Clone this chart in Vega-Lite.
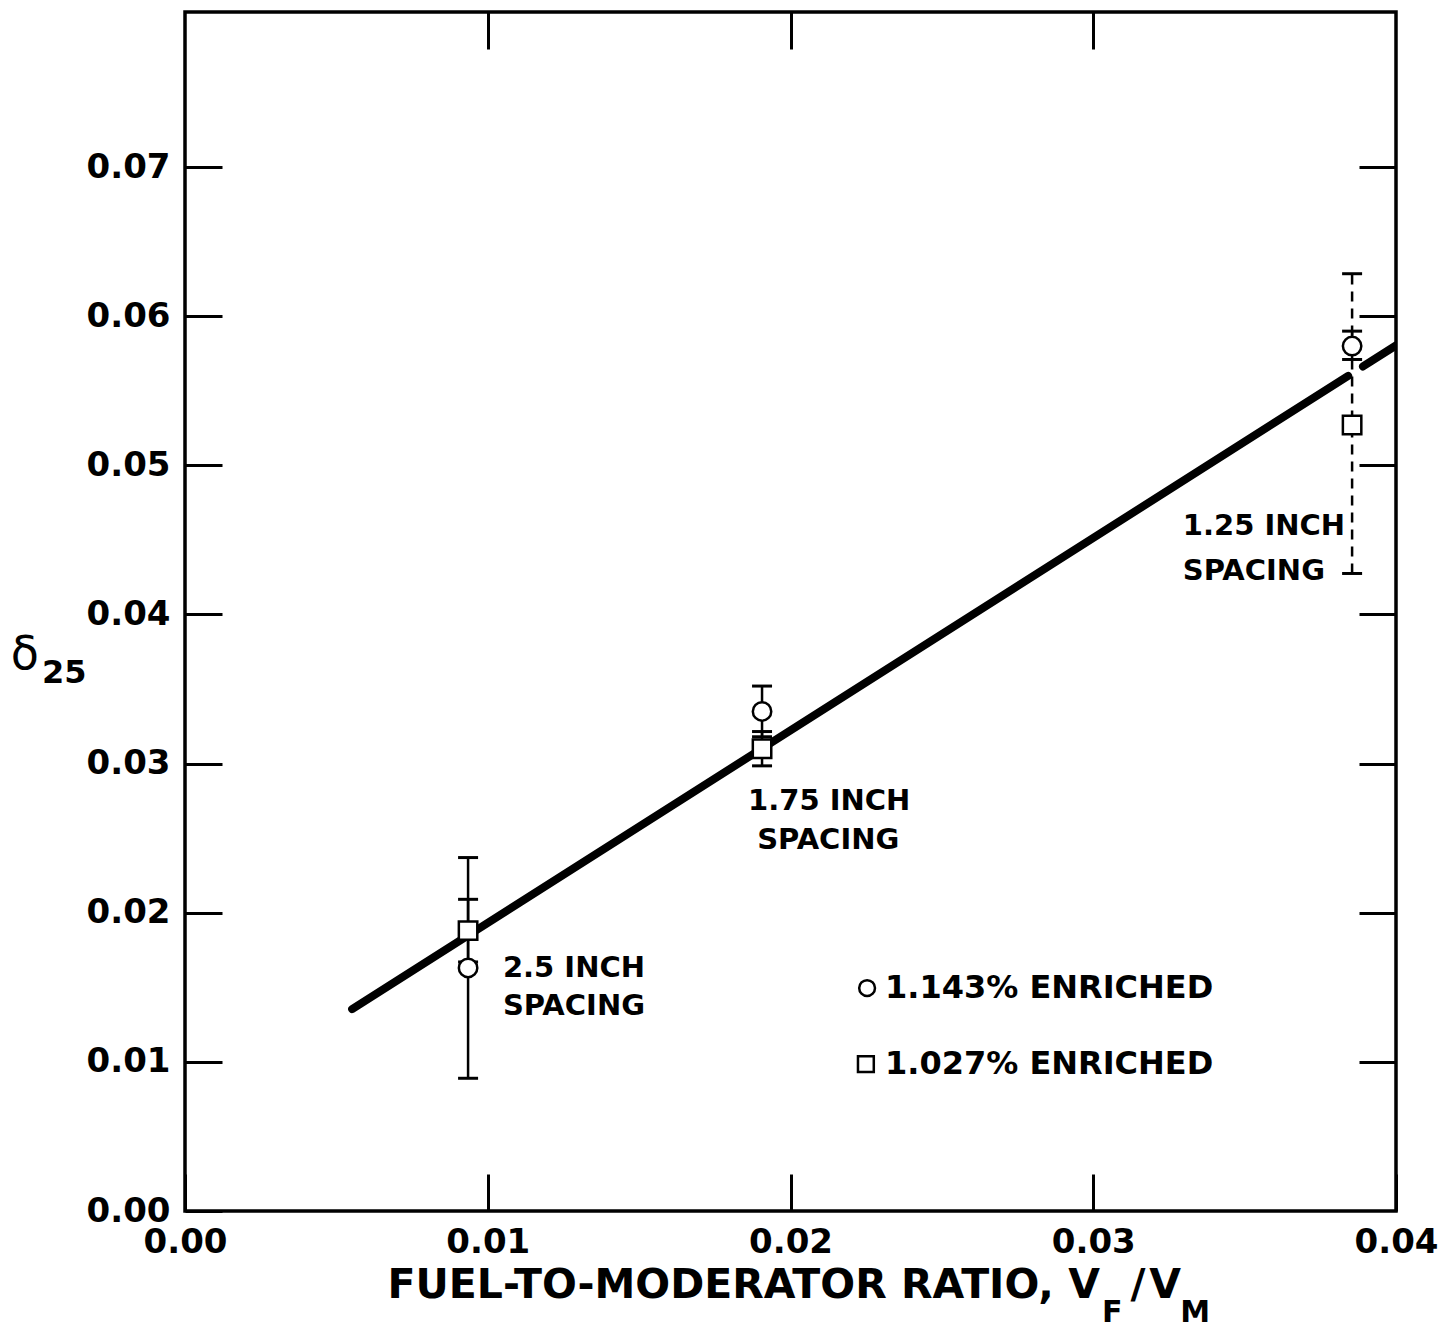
{
  "$schema": "https://vega.github.io/schema/vega-lite/v6.json",
  "width": 1211,
  "height": 1199,
  "autosize": {"type": "none"},
  "padding": {"left": 185, "top": 12, "right": 43, "bottom": 119},
  "background": "white",
  "config": {
    "font": "DejaVu Sans",
    "view": {"stroke": "black", "strokeWidth": 3.5},
    "axis": {
      "grid": false,
      "domain": false,
      "title": null,
      "labelFont": "DejaVu Sans",
      "labelFontSize": 34,
      "labelFontWeight": "bold",
      "labelColor": "black",
      "labelOverlap": false,
      "labelFlush": false,
      "tickColor": "black",
      "tickWidth": 3,
      "tickSize": -37
    },
    "text": {"font": "DejaVu Sans", "fontWeight": "bold", "color": "black", "baseline": "middle"}
  },
  "datasets": {
    "fit": [
      {"seg": "a", "x": 0.00552, "y": 0.01354},
      {"seg": "a", "x": 0.03842, "y": 0.056},
      {"seg": "b", "x": 0.03891, "y": 0.05663},
      {"seg": "b", "x": 0.04, "y": 0.05804}
    ],
    "obs": [
      {"spacing": "2.5", "enrichment": "1.143%", "x": 0.00935, "y": 0.0163, "lo": 0.0089, "hi": 0.0237},
      {"spacing": "2.5", "enrichment": "1.027%", "x": 0.00935, "y": 0.0188, "lo": 0.0167, "hi": 0.0209},
      {"spacing": "1.75", "enrichment": "1.143%", "x": 0.01906, "y": 0.0335, "lo": 0.0318, "hi": 0.0352},
      {"spacing": "1.75", "enrichment": "1.027%", "x": 0.01906, "y": 0.031, "lo": 0.02985, "hi": 0.03215},
      {"spacing": "1.25", "enrichment": "1.143%", "x": 0.03855, "y": 0.058, "lo": 0.0571, "hi": 0.059},
      {"spacing": "1.25", "enrichment": "1.027%", "x": 0.03855, "y": 0.0527, "lo": 0.04275, "hi": 0.06285}
    ],
    "key": [
      {"enrichment": "1.143%", "x": 0.02253, "tx": 0.02312, "y": 0.01495, "t": "1.143% ENRICHED"},
      {"enrichment": "1.027%", "x": 0.02249, "tx": 0.02312, "y": 0.00985, "t": "1.027% ENRICHED"}
    ],
    "notes": [
      {"x": 0.0105, "y": 0.0163, "t": "2.5 INCH"},
      {"x": 0.0105, "y": 0.01374, "t": "SPACING"},
      {"x": 0.0186, "y": 0.02748, "t": "1.75 INCH"},
      {"x": 0.0189, "y": 0.02487, "t": "SPACING"},
      {"x": 0.03296, "y": 0.04591, "t": "1.25 INCH"},
      {"x": 0.03296, "y": 0.0429, "t": "SPACING"}
    ]
  },
  "encoding": {
    "x": {"field": "x", "type": "quantitative", "scale": {"domain": [0, 0.04], "nice": false, "zero": false}, "axis": null},
    "y": {"field": "y", "type": "quantitative", "scale": {"domain": [0, 0.0804], "nice": false, "zero": false}, "axis": null}
  },
  "layer": [
    {
      "data": {"name": "fit"},
      "mark": {"type": "line", "stroke": "black", "strokeWidth": 8, "strokeCap": "round", "clip": true},
      "encoding": {
        "x": {"field": "x", "type": "quantitative", "scale": {"domain": [0, 0.04], "nice": false, "zero": false},
              "axis": {"orient": "bottom", "values": [0, 0.01, 0.02, 0.03, 0.04], "format": ".2f", "labelPadding": 51}},
        "y": {"field": "y", "type": "quantitative", "scale": {"domain": [0, 0.0804], "nice": false, "zero": false},
              "axis": {"orient": "left", "values": [0, 0.01, 0.02, 0.03, 0.04, 0.05, 0.06, 0.07], "format": ".2f", "labelPadding": 52}},
        "detail": {"field": "seg"}
      }
    },
    {
      "data": {"name": "obs"},
      "transform": [{"filter": "datum.spacing === '1.25' && datum.enrichment === '1.027%'"}],
      "mark": {"type": "rule", "color": "black", "strokeWidth": 2.5, "strokeDash": [10, 7]},
      "encoding": {
        "x": {"field": "x", "type": "quantitative", "scale": {"domain": [0, 0.04], "nice": false, "zero": false},
              "axis": {"orient": "top", "values": [0.01, 0.02, 0.03], "labels": false}},
        "y": {"field": "lo", "type": "quantitative", "scale": {"domain": [0, 0.0804], "nice": false, "zero": false},
              "axis": {"orient": "right", "values": [0.01, 0.02, 0.03, 0.04, 0.05, 0.06, 0.07], "labels": false}},
        "y2": {"field": "hi"}
      }
    },
    {
      "data": {"name": "obs"},
      "transform": [{"filter": "!(datum.spacing === '1.25' && datum.enrichment === '1.027%')"}],
      "mark": {"type": "rule", "color": "black", "strokeWidth": 2.5},
      "encoding": {
        "y": {"field": "lo", "type": "quantitative", "scale": {"domain": [0, 0.0804], "nice": false, "zero": false}, "axis": null},
        "y2": {"field": "hi"}
      }
    },
    {
      "data": {"name": "obs"},
      "transform": [{"fold": ["lo", "hi"], "as": ["end", "y"]}],
      "mark": {"type": "tick", "orient": "horizontal", "color": "black", "size": 20, "thickness": 3, "opacity": 1}
    },
    {
      "data": {"name": "obs"},
      "mark": {"type": "point", "filled": true, "fill": "white", "stroke": "black", "strokeWidth": 2.5, "size": 340, "opacity": 1},
      "encoding": {
        "shape": {
          "field": "enrichment", "type": "nominal",
          "scale": {"domain": ["1.143%", "1.027%"], "range": ["circle", "square"]},
          "legend": null
        }
      }
    },
    {
      "data": {"name": "key"},
      "mark": {"type": "point", "filled": true, "fill": "white", "stroke": "black", "strokeWidth": 2.5, "size": 250, "opacity": 1},
      "encoding": {
        "shape": {
          "field": "enrichment", "type": "nominal",
          "scale": {"domain": ["1.143%", "1.027%"], "range": ["circle", "square"]},
          "legend": null
        }
      }
    },
    {
      "data": {"name": "key"},
      "mark": {"type": "text", "align": "left", "fontSize": 32},
      "encoding": {
        "x": {"field": "tx", "type": "quantitative", "scale": {"domain": [0, 0.04], "nice": false, "zero": false}, "axis": null},
        "text": {"field": "t"}
      }
    },
    {
      "data": {"name": "notes"},
      "mark": {"type": "text", "align": "left", "fontSize": 29},
      "encoding": {"text": {"field": "t"}}
    },
    {
      "data": {"values": [{"x": 0.03022, "y": -0.00503, "t": "FUEL-TO-MODERATOR RATIO, V"}]},
      "mark": {"type": "text", "align": "right", "fontSize": 41},
      "encoding": {"text": {"field": "t"}}
    },
    {
      "data": {"values": [{"x": 0.03148, "y": -0.00503, "t": "/"}, {"x": 0.03237, "y": -0.00503, "t": "V"}]},
      "mark": {"type": "text", "align": "center", "fontSize": 41},
      "encoding": {"text": {"field": "t"}}
    },
    {
      "data": {"values": [{"x": 0.03029, "y": -0.00684, "t": "F"}, {"x": 0.03287, "y": -0.00684, "t": "M"}]},
      "mark": {"type": "text", "align": "left", "fontSize": 30},
      "encoding": {"text": {"field": "t"}}
    },
    {
      "data": {"values": [{"x": -0.00529, "y": 0.03727, "t": "δ"}]},
      "mark": {"type": "text", "align": "center", "fontSize": 46, "fontWeight": "normal"},
      "encoding": {"text": {"field": "t"}}
    },
    {
      "data": {"values": [{"x": -0.00472, "y": 0.03606, "t": "25"}]},
      "mark": {"type": "text", "align": "left", "fontSize": 32},
      "encoding": {"text": {"field": "t"}}
    }
  ],
  "resolve": {"axis": {"x": "independent", "y": "independent"}}
}
